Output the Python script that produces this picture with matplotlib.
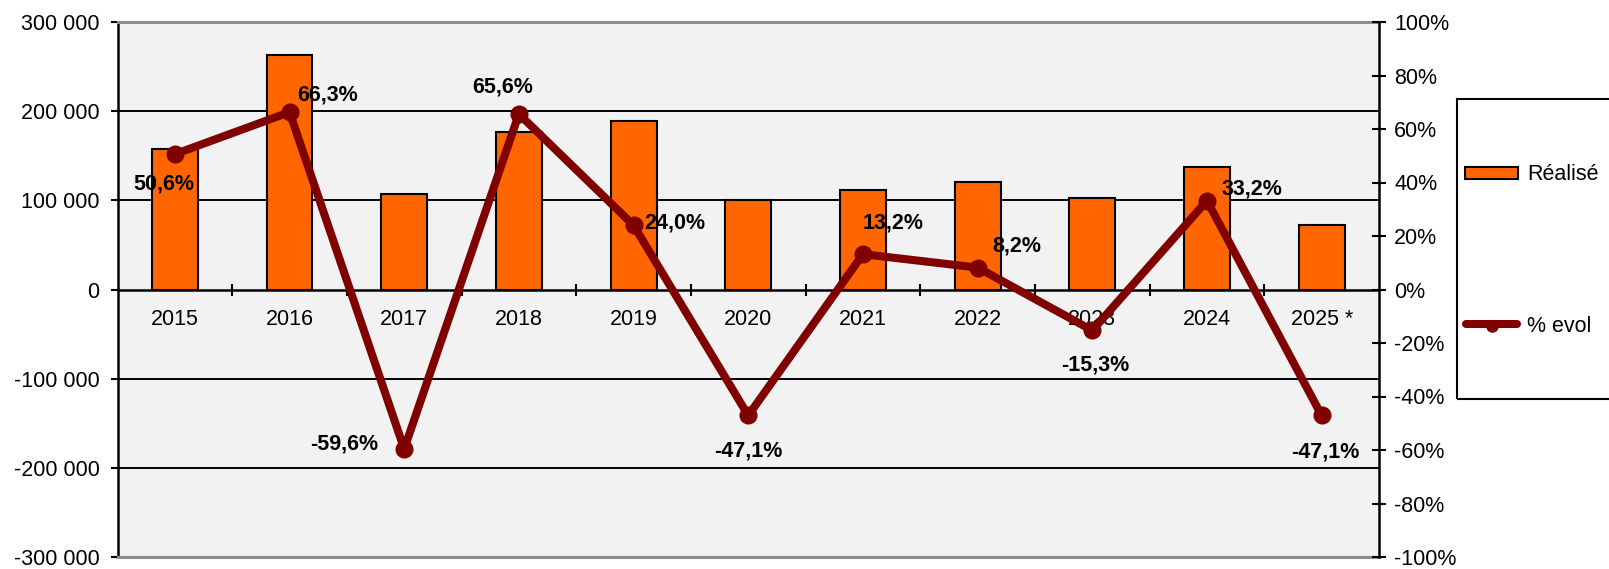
import matplotlib
matplotlib.use("Agg")
import matplotlib.pyplot as plt
from matplotlib.ticker import FixedLocator, FuncFormatter
from matplotlib.patches import Rectangle
from matplotlib.lines import Line2D

plt.rcParams['font.family'] = ['Liberation Sans', 'DejaVu Sans']

categories = ["2015", "2016", "2017", "2018", "2019", "2020", "2021", "2022", "2023", "2024", "2025 *"]
realise = [158000, 263000, 107000, 177000, 189000, 100000, 112000, 121000, 103000, 137000, 72000]
evol = [0.506, 0.663, -0.596, 0.656, 0.240, -0.471, 0.132, 0.082, -0.153, 0.332, -0.471]
evol_labels = ["50,6%", "66,3%", "-59,6%", "65,6%", "24,0%", "-47,1%", "13,2%", "8,2%", "-15,3%", "33,2%", "-47,1%"]
# label offsets in pixels (dx, dy) relative to the point
label_offsets = [(-11, -30), (38, 17), (-60, 5), (-16, 27), (41, 2), (0, -36),
                 (30, 31), (39, 22), (3, -35), (45, 12), (4, -37)]

FS = 15.5
W, H = 1609, 569
fig = plt.figure(figsize=(W / 100, H / 100), dpi=100)
fig.patch.set_facecolor('white')

x0, x1, y0, y1 = 117.5, 1379, 22, 557
ax = fig.add_axes([x0 / W, 1 - y1 / H, (x1 - x0) / W, (y1 - y0) / H])
ax.set_facecolor('#f2f2f2')
ax2 = ax.twinx()

xs = list(range(len(categories)))
ax.set_xlim(-0.5, len(categories) - 0.5)
ax.set_ylim(-300000, 300000)
ax2.set_ylim(-1, 1)

# gridlines
for g in [-200000, -100000, 100000, 200000]:
    ax.axhline(g, color='black', lw=1.4, zorder=0.5)
ax.axhline(-300000, color='#8c8c8c', lw=2.2, zorder=3, clip_on=False)

ax.bar(xs, realise, width=0.4, color='#FF6600', edgecolor='black', linewidth=1.5, zorder=2)

# spines
ax.spines['top'].set_color('#8c8c8c')
ax.spines['top'].set_linewidth(2.2)
ax.spines['right'].set_visible(False)
ax.spines['left'].set_color('black')
ax.spines['left'].set_linewidth(1.8)
ax.spines['bottom'].set_position(('data', 0))
ax.spines['bottom'].set_linewidth(1.8)
ax.spines['bottom'].set_zorder(2.5)
for s in ['top', 'left', 'bottom']:
    ax2.spines[s].set_visible(False)
ax2.spines['right'].set_color('black')
ax2.spines['right'].set_linewidth(1.8)

# x ticks: boundaries (major, no labels), labels at centres (minor)
ax.xaxis.set_major_locator(FixedLocator([i + 0.5 for i in range(len(categories) - 1)]))
ax.xaxis.set_major_formatter(FuncFormatter(lambda v, p: ""))
ax.set_xticks(xs, minor=True)
ax.set_xticklabels(categories, minor=True)
ax.tick_params(axis='x', which='major', direction='inout', length=9, width=1.5, color='black')
ax.tick_params(axis='x', which='minor', length=0, pad=14, labelsize=FS)

ax.set_yticks([-300000, -200000, -100000, 0, 100000, 200000, 300000])
ax.yaxis.set_major_formatter(FuncFormatter(lambda v, p: f"{int(v):,}".replace(",", " ")))
ax.tick_params(axis='y', direction='out', length=5, width=1.5, labelsize=FS, pad=8)

ax2.set_yticks([i / 5 for i in range(-5, 6)])
ax2.yaxis.set_major_formatter(FuncFormatter(lambda v, p: f"{int(round(v * 100))}%"))
ax2.tick_params(axis='y', direction='inout', length=10, width=1.5, labelsize=FS, pad=6)

ax2.plot(xs, evol, color='#800000', lw=5.8, marker='o', markersize=12, zorder=4,
         solid_joinstyle='round')
for x, v, lab, (dx, dy) in zip(xs, evol, evol_labels, label_offsets):
    ax2.annotate(lab, (x, v), xytext=(dx, dy), textcoords='offset pixels',
                 ha='center', va='center', fontsize=FS, fontweight='bold', color='black',
                 zorder=5)

# legend (manual, box extends beyond figure edge as in reference)
def fx(px):
    return px / W

def fy(py):
    return 1 - py / H

fig.patches.append(Rectangle((fx(1457), fy(399)), fx(300), 300 / H, transform=fig.transFigure,
                             fill=False, edgecolor='black', lw=1.5))
fig.patches.append(Rectangle((fx(1465), fy(179)), fx(53), 12 / H, transform=fig.transFigure,
                             facecolor='#FF6600', edgecolor='black', lw=1.5))
fig.text(fx(1527), fy(174), "Réalisé", fontsize=FS, va='center', ha='left')
fig.lines.append(Line2D([fx(1466), fx(1517)], [fy(324), fy(324)], transform=fig.transFigure,
                        color='#800000', lw=5.8, solid_capstyle='round'))
fig.lines.append(Line2D([fx(1492)], [fy(326)], transform=fig.transFigure,
                        color='#800000', marker='o', markersize=8, lw=0))
fig.text(fx(1527), fy(326), "% evol", fontsize=FS, va='center', ha='left')

fig.savefig("out.png", dpi=100)
